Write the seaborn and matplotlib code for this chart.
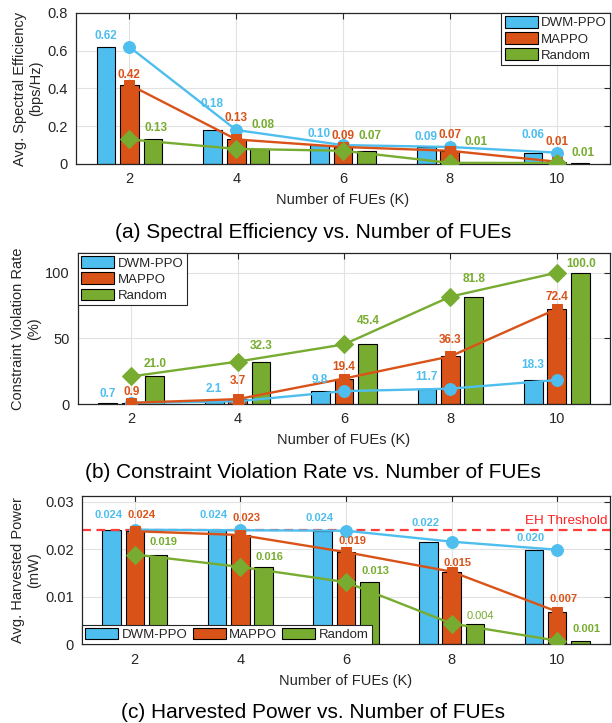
import numpy as np
import pandas as pd
import seaborn as sns
import matplotlib.pyplot as plt
from matplotlib.patches import Patch
from matplotlib.ticker import FuncFormatter

# data
K = [2, 4, 6, 8, 10]
methods = ['DWM-PPO', 'MAPPO', 'Random']

se_dwm = [0.62, 0.18, 0.10, 0.09, 0.06]
se_mappo = [0.42, 0.13, 0.09, 0.07, 0.012]
se_random = [0.13, 0.08, 0.07, 0.006, 0.005]

cvr_dwm = [0.7, 2.1, 9.8, 11.7, 18.3]
cvr_mappo = [0.9, 3.7, 19.4, 36.3, 72.4]
cvr_random = [21.0, 32.3, 45.4, 81.8, 100.0]

hp_dwm = [0.0241, 0.0240, 0.0239, 0.0216, 0.0199]
hp_mappo = [0.0238, 0.0230, 0.0194, 0.0153, 0.0069]
hp_random = [0.0189, 0.0163, 0.0131, 0.0044, 0.0008]
eh_threshold = 0.024

captions = ['(a) Spectral Efficiency vs. Number of FUEs',
            '(b) Constraint Violation Rate vs. Number of FUEs',
            '(c) Harvested Power vs. Number of FUEs']
ylabels = ['Avg. Spectral Efficiency\n(bps/Hz)',
           'Constraint Violation Rate\n(%)',
           'Avg. Harvested Power\n(mW)']

palette = {'DWM-PPO': '#4DBEEE', 'MAPPO': '#D95319', 'Random': '#77AC30'}
markers = {'DWM-PPO': 'o', 'MAPPO': 's', 'Random': 'D'}

# label placement (pixels above value, x shift in data units)
lbl_dy = [
    {'DWM-PPO': [10.6, 26, 11, 10.4, 17.7], 'MAPPO': [9.6, 21.5, 11, 15.9, 20],
     'Random': [11.5, 24, 14.7, 21, 10]},
    {'DWM-PPO': [9, 12, 11, 12, 15], 'MAPPO': [11, 18, 12, 16, 12],
     'Random': [12.5, 15.7, 23.5, 18, 9]},
    {'DWM-PPO': [15, 15, 13, 19, 12], 'MAPPO': [16, 17, 11, 9, 12.7],
     'Random': [13, 10, 11, 7.6, 11.7]},
]
lbl_dx = [{'DWM-PPO': -0.45, 'MAPPO': 0, 'Random': 0.5},
          {'DWM-PPO': -0.45, 'MAPPO': 0, 'Random': 0.45},
          {'DWM-PPO': -0.5, 'MAPPO': 0.12, 'Random': 0.55}]
lbl_size = [8.5, 8.5, 8]

sns.set_style('white')
plt.rcParams['font.family'] = ['Liberation Sans', 'DejaVu Sans']


def long_df(a, b, c):
    return pd.DataFrame({'K': K * 3,
                         'value': a + b + c,
                         'method': np.repeat(methods, len(K))})


panels = [long_df(se_dwm, se_mappo, se_random),
          long_df(cvr_dwm, cvr_mappo, cvr_random),
          long_df(hp_dwm, hp_mappo, hp_random)]
fmts = ['{:.2f}', '{:.1f}', '{:.3f}']
ylims = [(0, 0.8), (0, 115), (0, 0.0312)]
yticks = [[0, 0.2, 0.4, 0.6, 0.8], [0, 50, 100], [0, 0.01, 0.02, 0.03]]

fig = plt.figure(figsize=(6.12, 7.23), dpi=100)
rects = [[0.1242, 0.7732, 0.8725, 0.2089],
         [0.1275, 0.4412, 0.8693, 0.2089],
         [0.1340, 0.1086, 0.8627, 0.2054]]
cap_y = [1 - 232 / 723, 1 - 472 / 723, 1 - 713 / 723]
dark = '#262626'

for i, df in enumerate(panels):
    ax = fig.add_axes(rects[i])
    sns.barplot(data=df, x='K', y='value', hue='method', native_scale=True,
                palette=palette, saturation=1, width=0.66, gap=0.2,
                errorbar=None, edgecolor='black', linewidth=0.8,
                legend=False, ax=ax)
    if i == 2:
        ax.axhline(eh_threshold, color='#FF3B3B', ls='--', lw=1.6,
                   dashes=(4, 2.5), zorder=2.5)
        ax.text(10.95, eh_threshold + 0.0006, 'EH Threshold', color='#FF2020',
                fontsize=9.7, ha='right', va='bottom', zorder=4)
    sns.lineplot(data=df, x='K', y='value', hue='method', style='method',
                 markers=markers, dashes=False, palette=palette,
                 linewidth=1.7, markersize=8.5, legend=False, ax=ax,
                 zorder=3)
    for ln in ax.lines:
        if ln.get_marker() not in (None, 'None', ''):
            ln.set_markeredgecolor(ln.get_color())
            if ln.get_marker() == 'D':
                ln.set_markersize(9.5)
            if ln.get_marker() == 's':
                ln.set_markersize(7.5)

    for m in methods:
        sub = df[df['method'] == m]
        for j, (k, v) in enumerate(zip(sub['K'], sub['value'])):
            weight = 'normal' if (i == 2 and m == 'Random' and j == 3) else 'bold'
            ax.annotate(fmts[i].format(v), (k + lbl_dx[i][m], v),
                        xytext=(0, lbl_dy[i][m][j]), textcoords='offset pixels',
                        ha='center', va='center', color=palette[m],
                        fontsize=lbl_size[i], fontweight=weight, zorder=5)

    ax.set_xlim(1, 11)
    ax.set_ylim(*ylims[i])
    ax.set_xticks(K)
    ax.set_yticks(yticks[i])
    ax.yaxis.set_major_formatter(FuncFormatter(lambda v, p: f'{v:g}'))
    ax.set_xlabel('Number of FUEs (K)', fontsize=10.5, color=dark, labelpad=5)
    ax.set_ylabel(ylabels[i], fontsize=10.5, color=dark, labelpad=3)
    ax.grid(True, color='#e2e2e2', linewidth=0.8)
    ax.set_axisbelow(True)
    ax.tick_params(direction='in', length=4, width=0.8, top=True, right=True,
                   labelsize=10.5, colors=dark, pad=6)
    for s in ax.spines.values():
        s.set_color(dark)
        s.set_linewidth(0.9)

    handles = [Patch(facecolor=palette[m], edgecolor='black', linewidth=0.8,
                     label=m) for m in methods]
    leg_kw = dict(fontsize=9.5, frameon=True, fancybox=False, framealpha=1,
                  edgecolor=dark, handlelength=2.5, handleheight=0.95,
                  handletextpad=0.25, borderpad=0.25, labelspacing=0.22,
                  borderaxespad=0)
    if i == 0:
        leg = ax.legend(handles=handles, loc='upper right', **leg_kw)
    elif i == 1:
        leg = ax.legend(handles=handles, loc='upper left', **leg_kw)
    else:
        leg = ax.legend(handles=handles, loc='lower left', ncol=3,
                        columnspacing=0.4, **leg_kw)
    leg.get_frame().set_linewidth(0.8)
    leg.set_zorder(6)

    fig.text(0.511, cap_y[i], captions[i], ha='center', va='center',
             fontsize=15, color='black')

fig.savefig('out.png', dpi=100)
